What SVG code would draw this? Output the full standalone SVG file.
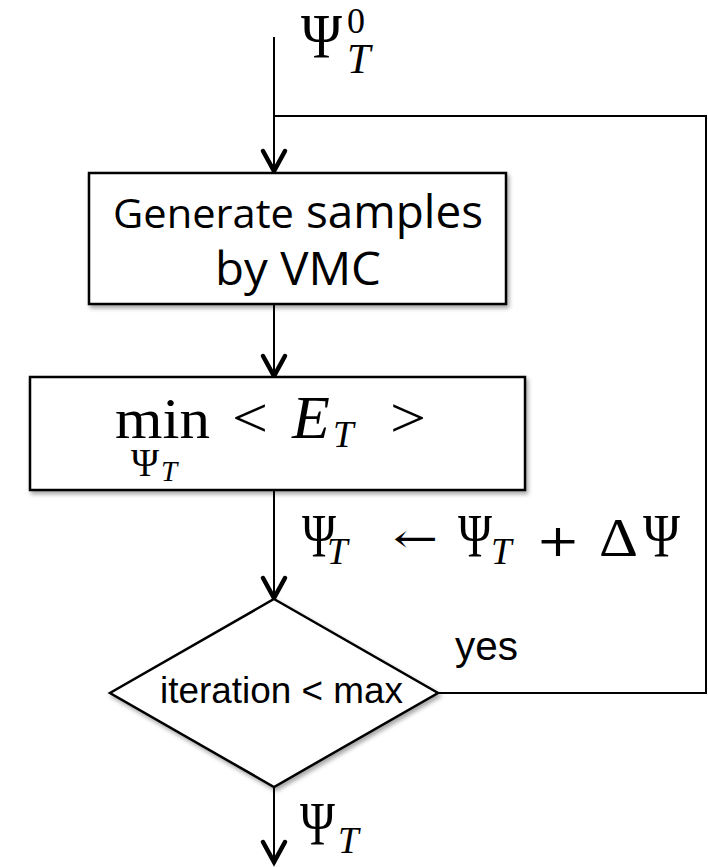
<svg xmlns="http://www.w3.org/2000/svg" width="708" height="867" viewBox="0 0 708 867">
  <defs>
    <filter id="shadow" x="-10%" y="-10%" width="125%" height="130%">
      <feDropShadow dx="2" dy="3" stdDeviation="2" flood-color="#000" flood-opacity="0.35"/>
    </filter>
    <!-- open chevron arrowhead, tip at the origin, pointing down -->
    <path id="chev" d="M -11,-20 L 0,0 L 11,-20" fill="none" stroke="#000" stroke-width="4.5" stroke-linejoin="miter" stroke-linecap="round"/>
    <style>
      .box { fill: #fff; stroke: #000; stroke-width: 2.5; filter: url(#shadow); }
      .link { fill: none; stroke: #000; stroke-width: 2; }
      .sans { font-family: "Open Sans", "Noto Sans", sans-serif; fill: #000; }
      .arial { font-family: "Liberation Sans", Arial, sans-serif; fill: #000; }
      .math { font-family: "Liberation Serif", "DejaVu Serif", serif; fill: #000; }
      .it { font-style: italic; }
      .sym { font-family: "DejaVu Serif", serif; fill: #000; }
    </style>
  </defs>

  <!-- connectors -->
  <g id="connectors">
    <line class="link" x1="274" y1="37" x2="274" y2="170"/>
    <use href="#chev" x="274" y="171"/>
    <polyline class="link" points="438,693 706,693 706,116 274,116"/>
    <line class="link" x1="274" y1="304" x2="274" y2="375"/>
    <use href="#chev" x="274" y="376"/>
    <line class="link" x1="274" y1="490" x2="274" y2="597"/>
    <use href="#chev" x="274" y="598"/>
    <line class="link" x1="274" y1="787" x2="274" y2="861"/>
    <use href="#chev" x="274" y="862"/>
  </g>

  <!-- initial wavefunction label -->
  <g id="label-init">
    <text class="math" x="301" y="58" font-size="64"><tspan textLength="41" lengthAdjust="spacingAndGlyphs">Ψ</tspan><tspan x="347" y="33" font-size="36">0</tspan><tspan class="it" x="347" y="73" font-size="42">T</tspan></text>
  </g>

  <!-- sampling step -->
  <g id="node-vmc">
    <rect class="box" x="89" y="173" width="417" height="131"/>
    <text class="sans" x="113" y="228" font-size="41" textLength="181" lengthAdjust="spacingAndGlyphs">Generate</text>
    <text class="sans" x="306" y="228" font-size="45" textLength="177" lengthAdjust="spacingAndGlyphs">samples</text>
    <text class="sans" x="215" y="285" font-size="46" textLength="166" lengthAdjust="spacingAndGlyphs">by VMC</text>
  </g>

  <!-- energy minimisation step -->
  <g id="node-min">
    <rect class="box" x="30" y="377" width="495" height="113"/>
    <text class="math" x="115" y="438" font-size="58" textLength="95" lengthAdjust="spacingAndGlyphs">min</text>
    <text class="math" x="131" y="476" font-size="40"><tspan textLength="28" lengthAdjust="spacingAndGlyphs">Ψ</tspan><tspan class="it" x="161" y="481" font-size="29">T</tspan></text>
    <text class="math" x="232" y="437" font-size="58" textLength="36" lengthAdjust="spacingAndGlyphs">&lt;</text>
    <text class="math it" x="292" y="438" font-size="62">E<tspan x="333" y="447" font-size="37">T</tspan></text>
    <text class="math" x="390" y="437" font-size="58" textLength="36" lengthAdjust="spacingAndGlyphs">&gt;</text>
  </g>

  <!-- update rule -->
  <g id="label-update">
    <text class="math" x="302" y="556" font-size="62"><tspan textLength="34" lengthAdjust="spacingAndGlyphs">Ψ</tspan><tspan class="it" x="327" y="564" font-size="37">T</tspan></text>
    <text class="sym" x="393" y="552" font-size="40" textLength="45" lengthAdjust="spacingAndGlyphs">←</text>
    <text class="math" x="458" y="556" font-size="62"><tspan textLength="34" lengthAdjust="spacingAndGlyphs">Ψ</tspan><tspan class="it" x="491" y="564" font-size="37">T</tspan></text>
    <text class="sym" x="536" y="556" font-size="44" textLength="44" lengthAdjust="spacingAndGlyphs">+</text>
    <text class="math" x="599" y="556" font-size="54" textLength="39" lengthAdjust="spacingAndGlyphs">Δ</text>
    <text class="math" x="643" y="556" font-size="62" textLength="37" lengthAdjust="spacingAndGlyphs">Ψ</text>
  </g>

  <!-- loop decision -->
  <g id="node-decision">
    <polygon class="box" points="274,599 438,693 274,787 110,693" stroke-width="2"/>
    <text class="arial" x="281.5" y="703" font-size="36" text-anchor="middle" textLength="243" lengthAdjust="spacingAndGlyphs">iteration &lt; max</text>
  </g>

  <g id="label-yes">
    <text class="arial" x="455" y="660" font-size="40" textLength="63" lengthAdjust="spacingAndGlyphs">yes</text>
  </g>

  <!-- final wavefunction label -->
  <g id="label-final">
    <text class="math" x="300" y="844" font-size="62"><tspan textLength="35" lengthAdjust="spacingAndGlyphs">Ψ</tspan><tspan class="it" x="338" y="853" font-size="37">T</tspan></text>
  </g>
</svg>
